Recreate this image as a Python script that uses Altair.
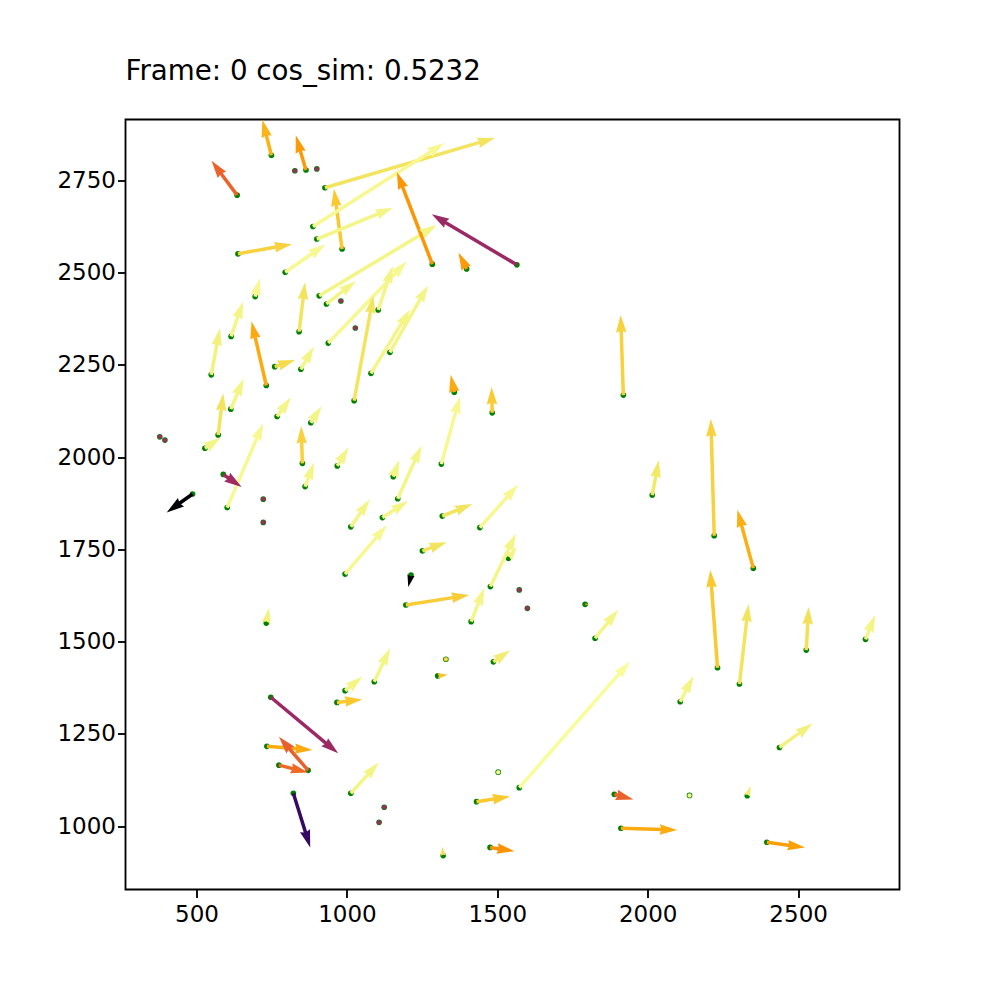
import numpy as np
import pandas as pd
import altair as alt

# ---- data (start point, vector, colour value on inferno 0..1) ----
x0 = [749, 827, 864, 900, 635, 927, 984, 887, 900, 638, 795, 695, 908, 932, 980, 841, 1028, 938, 1024, 1104,
      1080, 1143, 1284, 1398, 1565, 1919, 615, 732, 549, 760, 847, 768, 880, 852, 968, 861, 1154, 1169, 1314, 1357,
      1483, 1118, 1317, 1442, 1251, 1477, 1537, 1213, 1196, 1413, 1573, 1600, 1792, 1825, 2015, 2221, 2351, 2232, 2305, 2527,
      2724, 2108, 2438, 2139, 2331, 1911, 2396, 1329, 1487, 1302, 1573, 1503, 1431, 1889, 1476, 1320, 1124, 1107, 747, 994,
      1091, 967, 734, 871, 774, 1013, 822, 572, 614, 378, 395, 528, 589, 487, 602, 722, 722, 1013, 994, 732]
y0 = [2818, 2776, 2778, 2781, 2710, 2730, 2564, 2625, 2591, 2551, 2501, 2435, 2437, 2415, 2423, 2340, 2350, 2309, 2153, 2399,
      2227, 2284, 2523, 2510, 2521, 2168, 2327, 2194, 2223, 2245, 2238, 2110, 2093, 1983, 1976, 1920, 1947, 1887, 1981, 2176,
      2120, 1836, 1840, 1809, 1746, 1649, 1726, 1680, 1599, 1554, 1640, 1590, 1601, 1509, 1897, 1787, 1699, 1429, 1385, 1477,
      1506, 1337, 1213, 1083, 1082, 994, 956, 1452, 1445, 1407, 1104, 1146, 1066, 1086, 942, 920, 1051, 1010, 1349, 1367,
      1391, 1335, 1216, 1151, 1165, 1089, 1089, 2060, 2130, 2055, 2046, 2024, 1953, 1900, 1863, 1886, 1823, 1811, 1683, 1550]
u = [-30, 0, -34, 0, -85, 565, -27, 437, 253, 179, 134, 16, 391, 98, 0, 20, 0, 261, 64, 49,
     130, 127, -118, -27, -283, -9, 40, -49, 29, 68, 43, 46, 36, -4, 37, 30, 20, 79, 62, -12,
     -2, 86, 100, 127, 81, 85, 28, -9, 210, 44, 0, 0, 13, 77, 22, -11, -53, -24, 30, 8,
     32, 44, 110, 9, 11, 187, 127, 6, 56, 33, 368, 3, 111, 63, 81, -3, 0, 0, 224, 58,
     52, 84, 151, -97, 97, 93, 56, 17, 43, 0, 0, 53, 61, -86, 120, 0, 0, 63, 139, 9]
v = [96, 0, 94, 0, 93, 135, 163, 226, 85, 26, 76, 50, 192, 62, 0, 134, 0, 221, 284, 119,
     173, 182, 250, 44, 137, 217, 95, 174, 126, 18, 62, 52, 45, 101, 51, 65, 45, 144, 184, 47,
     70, 45, 33, 116, 23, 143, 31, -32, 27, 91, 0, 0, 0, 77, 95, 316, 158, 265, 216, 117,
     66, 70, 65, 4, 27, -5, -14, 0, 32, 3, 342, 3, 14, -14, -10, 24, 0, 0, -152, 38,
     91, 8, -10, 91, -20, 83, -147, 113, 83, 0, 0, 29, -34, -50, 229, 0, 0, 75, 133, 41]
cval = [0.83, 0.43, 0.78, 0.43, 0.65, 0.93, 0.87, 0.98, 0.97, 0.89, 0.98, 0.98, 0.97, 0.97, 0.43, 0.93, 0.43, 0.98, 0.93, 0.97,
        0.97, 0.97, 0.77, 0.78, 0.42, 0.89, 0.97, 0.81, 0.96, 0.91, 0.97, 0.97, 0.97, 0.89, 0.97, 0.97, 0.97, 0.97, 0.98, 0.81,
        0.88, 0.97, 0.93, 0.98, 0.93, 0.97, 0.97, 0.0, 0.88, 0.97, 0.43, 0.43, 0.8, 0.97, 0.94, 0.89, 0.82, 0.87, 0.93, 0.92,
        0.97, 0.97, 0.96, 0.97, 0.95, 0.81, 0.79, 0.9, 0.95, 0.86, 0.99, 0.98, 0.87, 0.65, 0.76, 0.92, 0.43, 0.43, 0.42, 0.97,
        0.97, 0.87, 0.81, 0.64, 0.67, 0.97, 0.17, 0.93, 0.97, 0.43, 0.43, 0.97, 0.43, 0.0, 0.98, 0.43, 0.43, 0.97, 0.98, 0.96]

x_ticks = [500, 1000, 1500, 2000, 2500]
y_ticks = [1000, 1250, 1500, 1750, 2000, 2250, 2500, 2750]
title_text = "Frame: 0 cos_sim: 0.5232"

XDOM = [264, 2837]
YDOM = [828, 2915]
W, H = 774, 770
kx = W / (XDOM[1] - XDOM[0])
ky = H / (YDOM[1] - YDOM[0])
SHAFT = 3.5
HEADLEN = 5 * SHAFT
HEADPATH = "M0,0L0.3,1L0,0.9L-0.3,1Z"
HEXPATH = "M1,0L0.5,0.866L-0.5,0.866L-1,0L-0.5,-0.866L0.5,-0.866Z"
FONT = "DejaVu Sans"

df = pd.DataFrame(dict(x=x0, y=y0, u=u, v=v, c=cval))
sx = df.u * kx
sy = df.v * ky
L = np.hypot(sx, sy)
df["xt"] = df.x + df.u
df["yt"] = df.y + df.v
df["ang"] = (np.degrees(np.arctan2(sx, sy)) + 360) % 360
hl = np.minimum(L, HEADLEN)
df["hsize"] = (2 * hl) ** 2
frac = np.where(L > HEADLEN, 1 - 0.85 * HEADLEN / np.maximum(L, 1e-9), 0)
df["xs"] = df.x + df.u * frac
df["ys"] = df.y + df.v * frac

dots = df[L < SHAFT]
heads = df[L >= SHAFT]
shafts = df[L > HEADLEN]

xscale = alt.Scale(domain=XDOM, nice=False, zero=False)
yscale = alt.Scale(domain=YDOM, nice=False, zero=False)
axis_common = dict(grid=False, format="d", labelFontSize=23, labelFont=FONT, labelColor="black",
                   tickColor="black", tickWidth=1.85, tickSize=8, domain=False, title=None)
xaxis = alt.Axis(values=x_ticks, labelFlush=False, labelPadding=6, **axis_common)
yaxis = alt.Axis(values=y_ticks, labelPadding=2, **axis_common)
color = alt.Color("c:Q", scale=alt.Scale(scheme="inferno", domain=[0, 1]), legend=None)

base_pts = alt.Chart(df).mark_circle(size=32, color="#008000", opacity=1).encode(
    x=alt.X("x:Q", scale=xscale, axis=xaxis),
    y=alt.Y("y:Q", scale=yscale, axis=yaxis),
)
shaft_layer = alt.Chart(shafts).mark_rule(strokeWidth=SHAFT, strokeCap="butt").encode(
    x="x:Q", y="y:Q", x2="xs:Q", y2="ys:Q", color=color
)
head_layer = alt.Chart(heads).mark_point(shape=HEADPATH, filled=True, opacity=1, strokeWidth=0).encode(
    x="xt:Q", y="yt:Q",
    size=alt.Size("hsize:Q", scale=None),
    angle=alt.Angle("ang:Q", scale=None),
    color=color,
)
hex_layer = alt.Chart(dots).mark_point(shape=HEXPATH, filled=True, opacity=1, size=22, strokeWidth=0).encode(
    x="x:Q", y="y:Q", color=color
)

chart = alt.layer(base_pts, shaft_layer, head_layer, hex_layer).properties(
    width=W, height=H,
    title=alt.TitleParams(title_text, anchor="start", frame="group", font=FONT, fontSize=27.7,
                          fontWeight="normal", color="black", baseline="alphabetic", offset=12),
    autosize=alt.AutoSizeParams(type="none"),
    padding={"left": 117.5, "top": 111.5, "right": 60, "bottom": 60},
).configure_view(stroke="black", strokeWidth=1.85)

chart.save("out.html", embed_options={"renderer": "svg", "actions": False})
